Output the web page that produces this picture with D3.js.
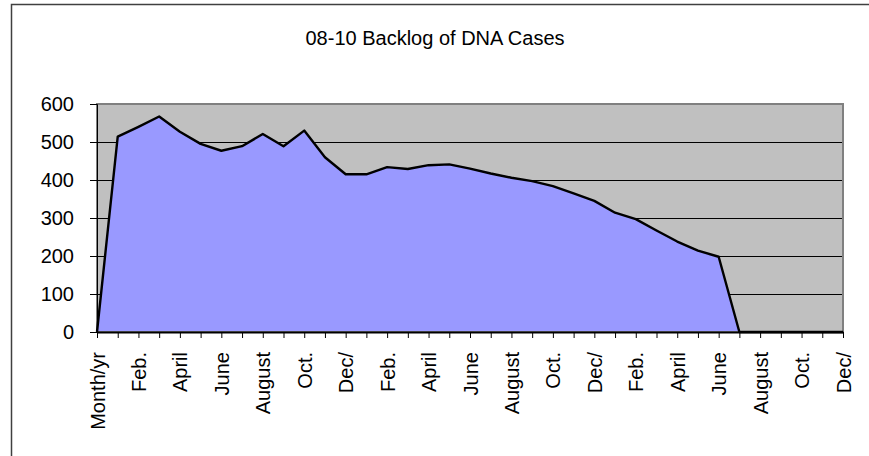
<!DOCTYPE html>
<meta charset="utf-8">
<script src="https://d3js.org/d3.v7.min.js"></script>
<style>
  body { margin: 0; background: #fff; overflow: hidden; }
  svg { display: block; }
  text { font-family: "Liberation Sans", Arial, sans-serif; fill: #000; }
</style>
<div id="chart"></div>
<script>

var W = 869, H = 456

// categories: a header cell, then three years of months
var months = ["Jan.","Feb.","March","April","May","June","July","August","Sept.","Oct.","Nov.","Dec/"]
var categories = ["Month/yr"].concat(months, months, months)

// backlog of cases
var backlog = [0, 514, 540, 567, 527, 495, 477, 489, 521, 489, 530, 460, 415,
               415, 434, 429, 439, 441, 430, 417, 406, 397, 384, 365, 345,
               314, 297, 267, 238, 214, 198, 0, 0, 0, 0, 0, 0]

var yTicks = [0, 100, 200, 300, 400, 500, 600]

var margin = {top: 104, right: 26, bottom: 124, left: 97}
var innerW = W - margin.left - margin.right,
    innerH = H - margin.top - margin.bottom

var svg = d3.select("#chart").append("svg")
  .attr("width", W)
  .attr("height", H)

// outer chart border, only top and left edges are in the picture
svg.append("path")
  .attr("d", `M11.5,${H}V4.5H${W}`)
  .attr("fill", "none")
  .attr("stroke", "#404040")
  .attr("stroke-width", 1.5)

svg.append("text")
  .attr("x", 435).attr("y", 45)
  .attr("text-anchor", "middle")
  .attr("font-size", "20px")
  .text("08-10 Backlog of DNA Cases")

var g = svg.append("g")
  .attr("transform", `translate(${margin.left},${margin.top})`)

var x = d3.scalePoint()
  .domain(d3.range(categories.length))
  .range([0, innerW])

var y = d3.scaleLinear()
  .domain([0, 600])
  .range([innerH, 0])

// plot background
g.append("rect")
  .attr("width", innerW).attr("height", innerH)
  .attr("fill", "#c0c0c0")

// gridlines
g.selectAll(".grid")
  .data(yTicks.filter(d => d > 0 && d < 600))
  .enter().append("line")
    .attr("x1", 0).attr("x2", innerW)
    .attr("y1", d => y(d)).attr("y2", d => y(d))
    .attr("stroke", "#000")
    .attr("stroke-width", 1)
    .attr("shape-rendering", "crispEdges")

var area = d3.area()
  .x((d, i) => x(i))
  .y0(y(0))
  .y1(d => y(d))

var line = d3.line()
  .x((d, i) => x(i))
  .y(d => y(d))

g.append("path")
  .datum(backlog)
  .attr("d", area)
  .attr("fill", "#9999ff")

// plot border
g.append("rect")
  .attr("width", innerW).attr("height", innerH)
  .attr("fill", "none")
  .attr("stroke", "#808080")
  .attr("stroke-width", 2)

g.append("path")
  .datum(backlog)
  .attr("d", line)
  .attr("fill", "none")
  .attr("stroke", "#000")
  .attr("stroke-width", 2.4)
  .attr("stroke-linejoin", "round")

// y axis
var yAxis = g.append("g")
  .call(d3.axisLeft(y).tickValues(yTicks).tickSize(7).tickPadding(16))
yAxis.select(".domain").attr("stroke", "#000")
yAxis.selectAll(".tick line").attr("stroke", "#000")
yAxis.selectAll("text")
  .attr("font-size", "20px")
  .attr("font-family", "Liberation Sans, Arial, sans-serif")

// x axis
var xAxis = g.append("g")
  .attr("transform", `translate(0,${innerH})`)
  .call(d3.axisBottom(x).tickSize(6).tickSizeOuter(0)
    .tickFormat(i => i % 2 === 0 ? categories[i] : ""))
xAxis.select(".domain").attr("stroke", "#000").attr("stroke-width", 2)
xAxis.selectAll(".tick line").attr("stroke", "#000")
xAxis.selectAll("text")
  .attr("font-size", "20px")
  .attr("font-family", "Liberation Sans, Arial, sans-serif")
  .attr("text-anchor", "end")
  .attr("transform", "rotate(-90)")
  .attr("x", -20)
  .attr("y", 0)
  .attr("dy", "0.35em")

</script>
